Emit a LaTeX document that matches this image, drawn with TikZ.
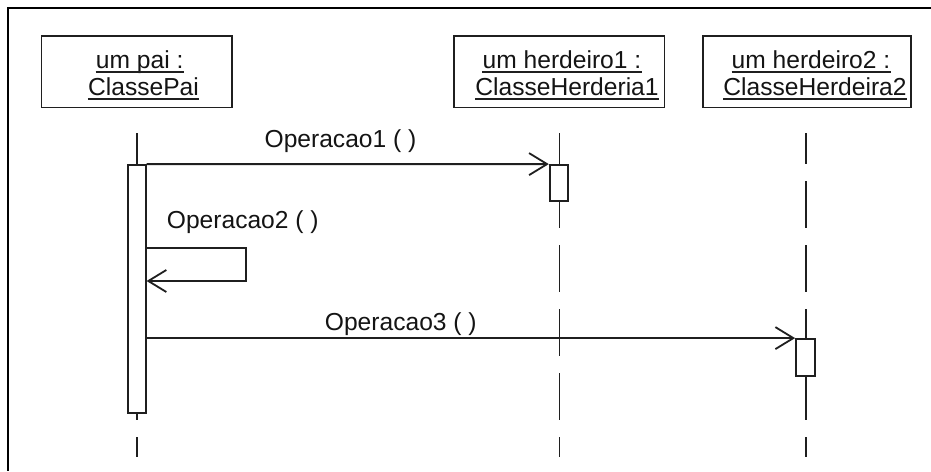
\documentclass[tikz,border=0pt]{standalone}
\usepackage{fontspec}
\setmainfont{Liberation Sans}
\usetikzlibrary{arrows.meta,calc}
\begin{document}
\begin{tikzpicture}[x=1pt,y=-1pt,
  ink/.style={draw=black!88, line width=1.8pt},
  objbox/.style={ink, fill=white, inner sep=0pt},
  lbl/.style={font=\fontsize{24.6}{28}\selectfont, inner sep=0pt, anchor=base, text=black!92},
  life/.style={ink, dash pattern=on 47pt off 17pt, dash phase=16pt},
  act/.style={ink, fill=white, inner sep=0pt, minimum width=18pt},
  msg/.style={ink, -{Straight Barb[length=18pt,width=22pt,line width=1.8pt]}},
  uline/.style={draw=black!88, line width=1.5pt},
]
\useasboundingbox (0,0) rectangle (931,471);
\fill[white] (0,0) rectangle (931,471);

% outer frame (top and left edges)
\coordinate (fTR) at (931,8);
\coordinate (fTL) at (8,8);
\coordinate (fBL) at (8,471);
\draw[line width=2.5pt, black] (fTR) -- (fTL) -- (fBL);

% object boxes
\node[objbox, minimum width=190.5pt, minimum height=71.5pt] (pai) at (136.75,71.75) {};
\node[objbox, minimum width=210.5pt, minimum height=71.5pt] (her1) at (559.25,71.75) {};
\node[objbox, minimum width=208pt, minimum height=71.5pt] (her2) at (807,71.75) {};

% object names
\node[lbl] (t1a) at (139.7,68) {um pai :};
\node[lbl] (t1b) at (143.5,95) {ClassePai};
\node[lbl] (t2a) at (562,68) {um herdeiro1 :};
\node[lbl] (t2b) at (567,95) {ClasseHerderia1};
\node[lbl] (t3a) at (811,68) {um herdeiro2 :};
\node[lbl] (t3b) at (815,95) {ClasseHerdeira2};
\foreach \n in {t1a,t1b,t2a,t2b,t3a,t3b}
  \draw[uline] ([yshift=-4pt]\n.base west) -- ([yshift=-4pt]\n.base east);

% lifelines
\coordinate (L1top) at (137,133);   \coordinate (L1bot) at (137,457);
\coordinate (L2top) at (559.5,133); \coordinate (L2bot) at (559.5,457);
\coordinate (L3top) at (806,133);   \coordinate (L3bot) at (806,457);
\draw[life] (L1top) -- (L1bot);
\draw[life] (L2top) -- (L2bot);
\draw[life] (L3top) -- (L3bot);
% solid parts hidden by the dash gaps
\draw[ink] (L1top) -- (137,165);
\draw[ink] (137,413) -- (137,420);
\draw[ink] (L2top) -- (559.5,165);

% activation bars
\node[act, minimum height=248pt] (A1) at (136.7,289) {};
\node[act, minimum width=18.6pt, minimum height=35.7pt] (A2) at (559,182.85) {};
\node[act, minimum width=19pt, minimum height=37pt] (A3) at (805.5,357.5) {};

% messages
\draw[msg] (A1.north east) -- (A2.north west);
\node[lbl] (m1) at (340.5,147) {Operacao1 ( )};

\coordinate (loopA) at (246,247.7);
\coordinate (loopB) at (246,281);
\draw[msg] (A1.east |- loopA) -- (loopA) -- (loopB) -- (A1.east |- loopB);
\node[lbl, anchor=base west] (m2) at (166.7,228) {Operacao2 ( )};

\draw[msg] (A1.east |- A3.north) -- (A3.north west);
\node[lbl] (m3) at (400.8,330) {Operacao3 ( )};
\end{tikzpicture}
\end{document}
